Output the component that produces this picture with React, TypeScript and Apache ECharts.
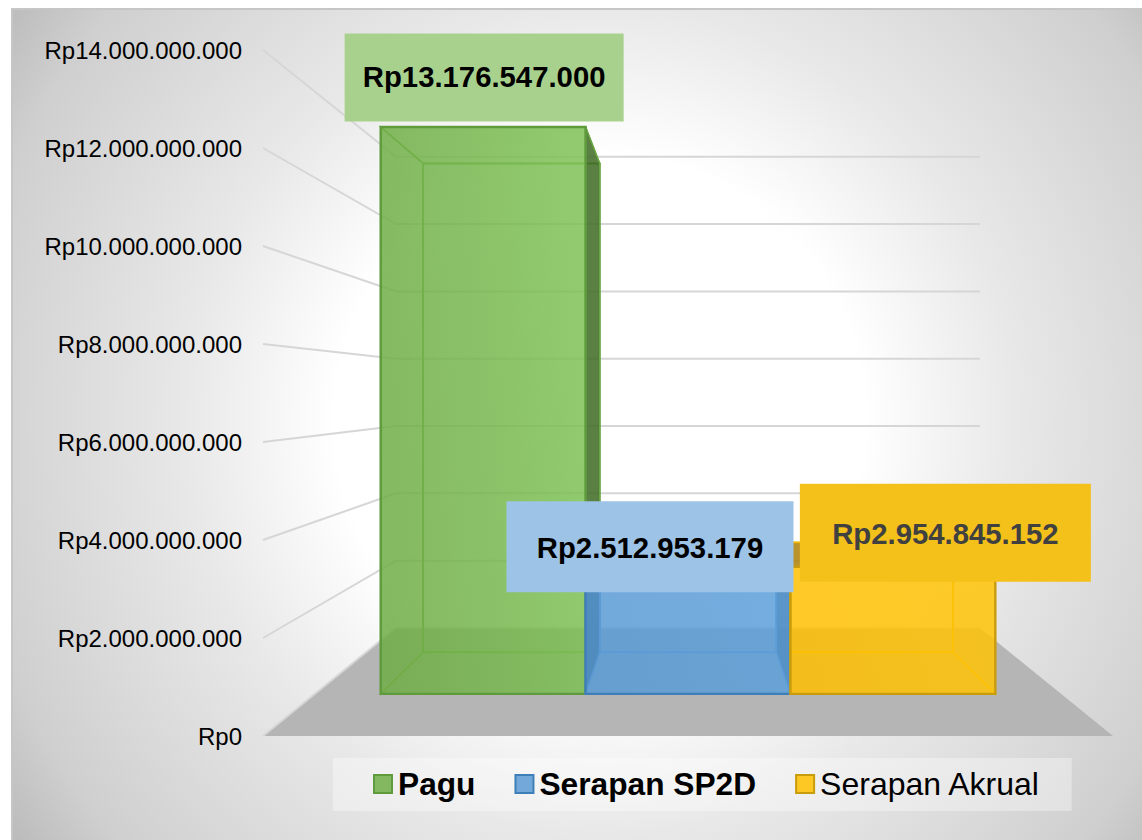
import React, { useEffect, useRef } from "react";
import * as echarts from "echarts";

const seriesNames = ["Pagu", "Serapan SP2D", "Serapan Akrual"];
const seriesValues = [13176547000, 2512953179, 2954845152];
const valueLabels = ["Rp13.176.547.000", "Rp2.512.953.179", "Rp2.954.845.152"];
const yTicks = [0, 2e9, 4e9, 6e9, 8e9, 10e9, 12e9, 14e9];

const rgb = [[112, 173, 71], [91, 155, 213], [255, 192, 0]];
const rgbRight = [[128, 195, 88], [94, 160, 218], [255, 196, 6]];
const edge = ["#5f9a3c", "#3f7fb8", "#c99c0c"];
const innerEdge = ["#6ba644", "#5a95cf", "#f2bb0c"];
const sideDark = ["rgba(62,105,35,0.82)", "rgba(30,70,110,0.8)", "rgba(170,125,10,0.8)"];
const shadeLeft = [false, true, false];
const shadeRight = [true, true, false];
const drawLeft = [true, true, false];
const frontAlpha = [0.81, 0.8, 0.78];
const boxFill = ["#a9d18e", "#9dc3e6", "#f4c01a"];
const textFill = ["#000000", "#000000", "#404040"];
const boxSize = [[279, 88], [287, 91], [291, 98]];
const boxOffset = [[1, -49.5], [-38, -39], [52.5, -34]];
const textDy = [-1, 1, 1];

const VX = 688, VY = 391;
const S_FRONT = 0.878, S_BACK = 0.757, S_WALL = 0.687;
const FONT = '"Liberation Sans", Arial, sans-serif';
const XMIN = -0.8215, XMAX = 2.8215;

const proj = (p: number[], s: number) => [VX + (p[0] - VX) * s, VY + (p[1] - VY) * s];
const a = (c: number[], al: number) => `rgba(${c[0]},${c[1]},${c[2]},${al})`;

function poly(points: number[][], fill: any, stroke: string, lw = 1.5) {
  return { type: "polygon", shape: { points }, style: { fill, stroke, lineWidth: lw } };
}

function barRender(i: number) {
  return (_: any, api: any) => {
    const v = api.value(1);
    const x = api.value(0);
    const bl = api.coord([x - 0.5, 0]), br = api.coord([x + 0.5, 0]);
    const tl = api.coord([x - 0.5, v]), tr = api.coord([x + 0.5, v]);
    const f = [tl, tr, br, bl].map((p) => proj(p, S_FRONT));
    let b = [tl, tr, br, bl].map((p) => proj(p, S_BACK));
    // a bar without a visible left face keeps its depth to the right of its front-left edge
    if (!drawLeft[i]) b = b.map((p) => [Math.max(p[0], f[0][0]), p[1]]);
    const c = rgb[i];
    const faceFill = a(c, i === 0 ? 0.25 : 0.3);
    const topFill = f[0][1] > VY ? sideDark[i] : faceFill;
    const children: any[] = [];
    children.push(poly(b, faceFill, innerEdge[i], 2));
    children.push(poly([f[3], f[2], b[2], b[3]], faceFill, innerEdge[i], 1.5));
    children.push(poly([f[0], f[1], b[1], b[0]], topFill, innerEdge[i], 1.5));
    if (drawLeft[i]) {
      children.push(poly([b[0], f[0], f[3], b[3]], shadeLeft[i] ? sideDark[i] : faceFill, innerEdge[i], 1.5));
    }
    children.push(poly([b[1], f[1], f[2], b[2]], shadeRight[i] ? sideDark[i] : faceFill, innerEdge[i], 1.5));
    children.push(poly(f, {
      type: "linear", x: 0, y: 0.6, x2: 1, y2: 0.4,
      colorStops: [{ offset: 0, color: a(c, frontAlpha[i]) }, { offset: 1, color: a(rgbRight[i], frontAlpha[i]) }],
    }, edge[i], 2.4));
    return { type: "group", children };
  };
}

function floorRender(_: any, api: any) {
  const l = api.coord([XMIN, 0]), r = api.coord([XMAX, 0]);
  return poly([l, r, proj(r, S_WALL), proj(l, S_WALL)], "#b5b5b5", "none", 0);
}

function wallRender(_: any, api: any) {
  const v = api.value(0);
  const l = api.coord([XMIN, v]), r = api.coord([XMAX, v]);
  return {
    type: "polyline",
    shape: { points: [l, proj(l, S_WALL), proj(r, S_WALL)] },
    style: { fill: "none", stroke: "#d6d6d6", lineWidth: 2 },
  };
}

function labelRender(_: any, api: any) {
  const i = api.value(0);
  const top = proj(api.coord([i, api.value(1)]), S_FRONT);
  const cx = top[0] + boxOffset[i][0], cy = top[1] + boxOffset[i][1];
  const [w, h] = boxSize[i];
  return {
    type: "group",
    children: [
      { type: "rect", shape: { x: cx - w / 2, y: cy - h / 2, width: w, height: h }, style: { fill: boxFill[i] } },
      {
        type: "text", z2: 2,
        style: { text: valueLabels[i], x: cx, y: cy + textDy[i], align: "center", verticalAlign: "middle", fill: textFill[i], font: `bold 29.3px ${FONT}` },
      },
    ],
  };
}

export default function App() {
  const ref = useRef<HTMLDivElement>(null);
  useEffect(() => {
    document.body.style.margin = "0";
    const chart = echarts.init(ref.current!, undefined, { renderer: "svg" });
    chart.setOption({
      animation: false,
      graphic: [
        {
          type: "rect", z: -10, silent: true,
          shape: { x: 12, y: 9, width: 1140, height: 840 },
          style: {
            stroke: "#c6c6c6", lineWidth: 2,
            fill: {
              type: "radial", x: 600, y: 420, r: 800, global: true,
              colorStops: [
                { offset: 0, color: "#ffffff" },
                { offset: 0.33, color: "#ffffff" },
                { offset: 0.52, color: "#e8e8e8" },
                { offset: 0.8, color: "#cfcfcf" },
                { offset: 1, color: "#a8a8a8" },
              ],
            },
          },
        },
      ],
      grid: { left: 263, right: 29, top: 50, bottom: 104 },
      xAxis: { type: "value", min: XMIN, max: XMAX, show: false },
      yAxis: {
        type: "value", min: 0, max: 14e9, interval: 2e9,
        axisLine: { show: false }, axisTick: { show: false }, splitLine: { show: false },
        axisLabel: {
          margin: 21, fontSize: 24, color: "#000", fontFamily: FONT,
          formatter: (v: number) => "Rp" + String(Math.round(v)).replace(/\B(?=(\d{3})+$)/g, "."),
        },
      },
      legend: {
        left: 333, top: 758, orient: "horizontal",
        backgroundColor: "rgba(255,255,255,0.35)",
        padding: [10, 31, 11, 40],
        itemWidth: 18, itemHeight: 18, itemGap: 39,
        textStyle: { fontSize: 32, color: "#000", fontFamily: FONT, padding: [0, 0, 0, 1] },
        data: seriesNames.map((name, i) => ({
          name, icon: "rect",
          itemStyle: { color: a(rgb[i], 0.85), borderColor: edge[i], borderWidth: 2 },
          textStyle: { fontWeight: i < 2 ? "bold" : "normal", fontSize: i < 2 ? 31.7 : 32, color: "#000", fontFamily: FONT, padding: [0, 0, 0, 1] },
        })),
      },
      series: [
        { type: "custom", name: "floor", z: 1, silent: true, data: [[0, 0]], encode: { x: 0, y: 1 }, renderItem: floorRender },
        { type: "custom", name: "walls", z: 1, silent: true, data: yTicks.map((t) => [t]), encode: { y: 0 }, renderItem: wallRender },
        ...seriesNames.map((name, i) => ({
          type: "custom", name, z: 2 + i, silent: true,
          data: [[i, seriesValues[i]]], encode: { x: 0, y: 1 }, renderItem: barRender(i),
        })),
        {
          type: "custom", name: "labels", z: 8, silent: true,
          data: seriesValues.map((v, i) => [i, v]), encode: { x: 0, y: 1 }, renderItem: labelRender,
        },
      ],
    });
    return () => chart.dispose();
  }, []);
  return <div ref={ref} style={{ width: 1142, height: 840 }} />;
}
